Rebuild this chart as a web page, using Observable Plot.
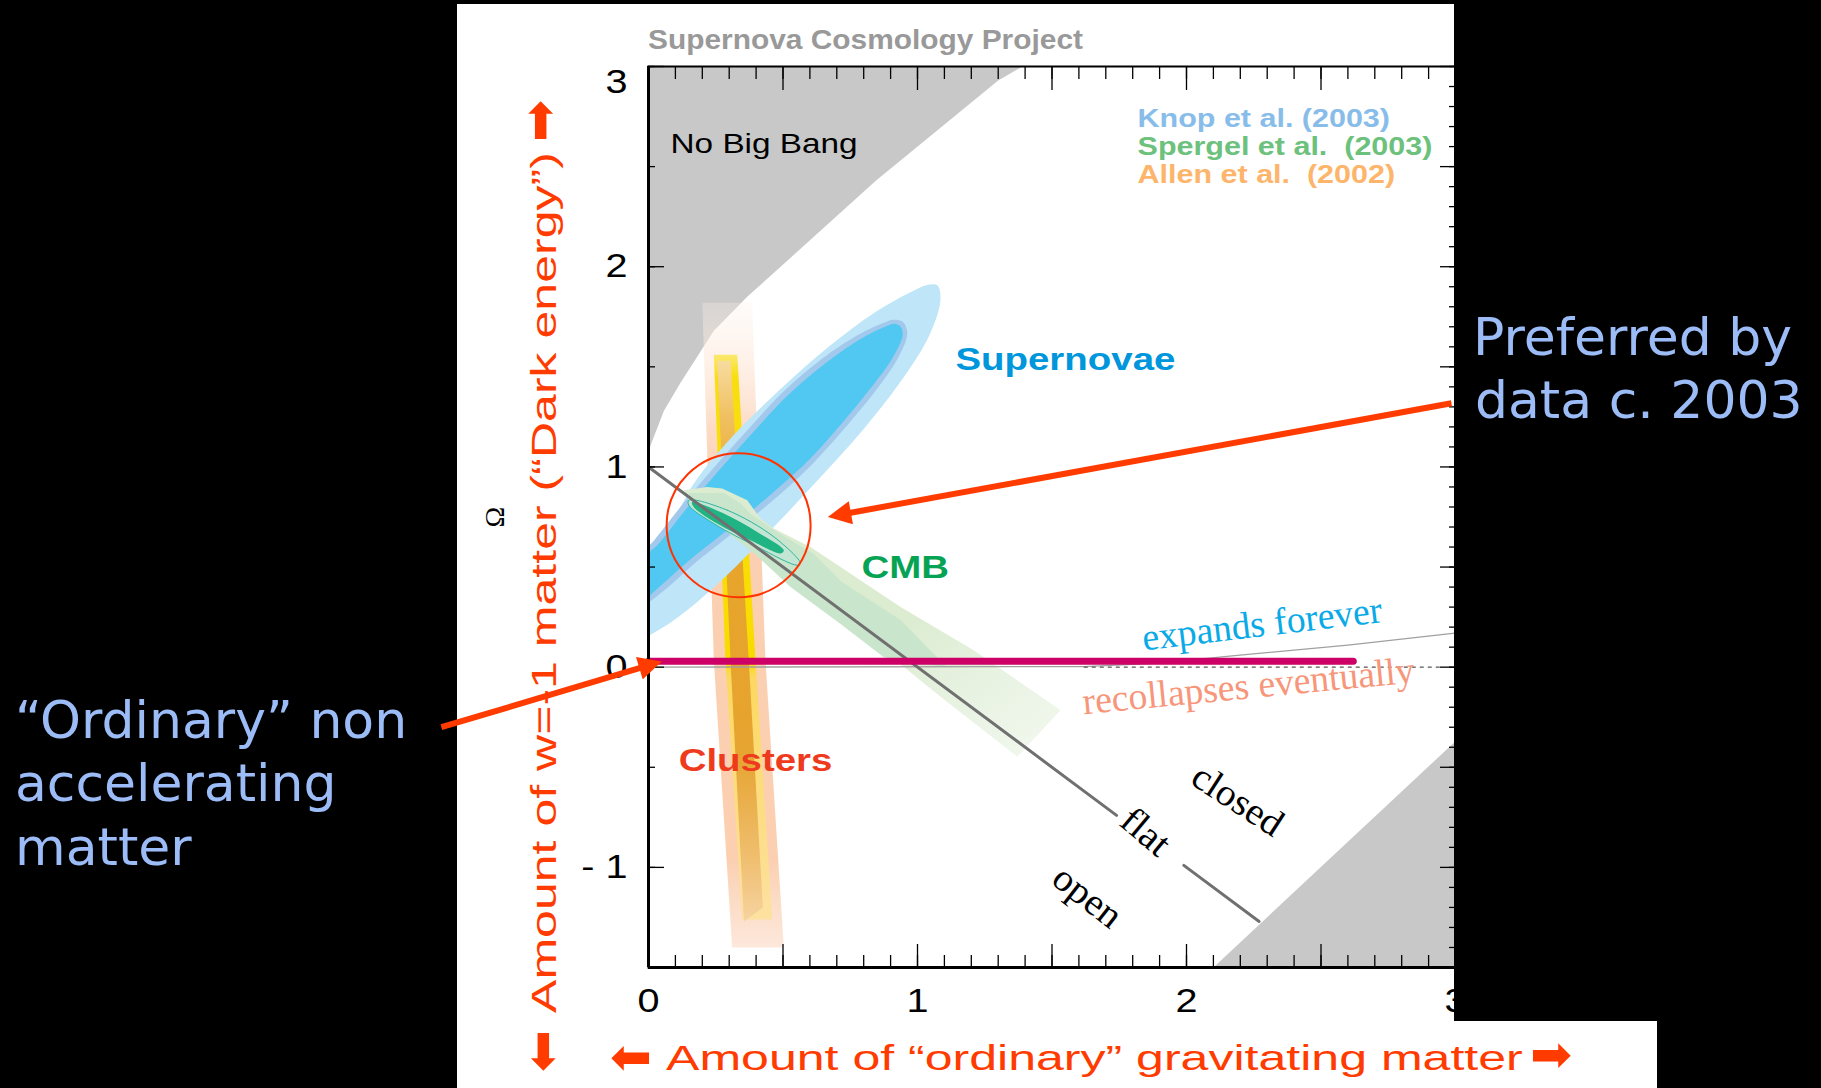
<!DOCTYPE html>
<html>
<head>
<meta charset="utf-8">
<script src="https://cdn.jsdelivr.net/npm/d3@7"></script>
<script src="https://cdn.jsdelivr.net/npm/@observablehq/plot@0.6"></script>
<style>
html,body{margin:0;padding:0;background:#000;}
body{width:1821px;height:1088px;position:relative;overflow:hidden;font-family:"Liberation Sans",Arial,Helvetica,sans-serif;}
.abs{position:absolute;white-space:pre;}
#panel{left:457px;top:4px;width:997px;height:1084px;background:#fff;}
#panel2{left:1454px;top:1021px;width:203px;height:67px;background:#fff;}
#chart{left:0;top:0;z-index:2;}
#chart text{white-space:pre;}
#coverR{left:1454px;top:0;width:367px;height:1021px;background:#000;z-index:3;}
#coverT{left:0;top:0;width:1821px;height:4px;background:#000;z-index:3;}
.blue{color:#9cbcf8;font-family:"DejaVu Sans",Verdana,sans-serif;font-size:52px;line-height:52px;z-index:4;}
.orange{color:#ff3b00;font-size:35px;line-height:35px;z-index:1;}
.arrow{font-family:"DejaVu Sans",sans-serif;font-size:50px;line-height:50px;color:#ff3b00;z-index:1;}
#title{left:648px;top:26px;font-size:28px;line-height:28px;font-weight:bold;color:#999;transform:scaleX(1.067);transform-origin:0 0;}
</style>
</head>
<body>
<div class="abs" id="panel"></div>
<div class="abs" id="panel2"></div>
<div class="abs" id="title">Supernova Cosmology Project</div>
<div class="abs orange" id="ylab" style="left:526px;top:1013px;transform-origin:0 0;transform:rotate(-90deg) scaleX(1.43);">Amount of w=-1 matter (“Dark energy”)</div>
<div class="abs arrow" style="left:542px;top:1051px;transform:translate(-50%,-50%) rotate(-90deg);">⬅</div>
<div class="abs arrow" style="left:542px;top:121px;transform:translate(-50%,-50%) rotate(90deg);">⬅</div>
<div class="abs orange" id="xlab" style="left:666px;top:1040px;transform-origin:0 0;transform:scaleX(1.43);">Amount of “ordinary” gravitating matter</div>
<div class="abs arrow" style="left:631px;top:1057px;transform:translate(-50%,-50%);">⬅</div>
<div class="abs arrow" style="left:1551px;top:1057px;transform:translate(-50%,-50%) rotate(180deg);">⬅</div>
<div class="abs" style="left:495px;top:517px;transform:translate(-50%,-50%) rotate(-90deg);font-family:'Liberation Serif',serif;font-size:28px;line-height:28px;color:#000;z-index:1;">Ω</div>
<div class="abs" id="chart"></div>
<div class="abs" id="coverR"></div>
<div class="abs" id="coverT"></div>
<div class="abs blue" style="left:1473px;top:311px;">Preferred by</div>
<div class="abs blue" style="left:1475px;top:374px;">data c. 2003</div>
<div class="abs blue" style="left:15px;top:694px;">“Ordinary” non</div>
<div class="abs blue" style="left:15px;top:757px;">accelerating</div>
<div class="abs blue" style="left:15px;top:821px;">matter</div>
<script>
// ---------------- data (x = Ωm, y = ΩΛ) ----------------
const xDomain = [0, 3];
const yDomain = [-1.5, 3];
const xTickValues = [0, 1, 2, 3];
const xTickLabels = ["0", "1", "2", "3"];
const yTickValues = [-1, 0, 1, 2];
const yTickLabels = ["- 1", "0", "1", "2"];
const yTopTickLabel = "3";

// "No Big Bang" region (top left)
const noBigBangX = [0, 0, 0.014, 0.057, 0.119, 0.243, 0.367, 0.516, 0.845, 1.30, 1.39];
const noBigBangY = [3, 1.08, 1.13, 1.28, 1.42, 1.68, 1.85, 2.03, 2.43, 2.93, 3.0];
// grey region bottom right
const cornerX = [2.10, 3.0, 3.0];
const cornerY = [-1.5, -0.37, -1.5];

// Supernovae (Knop et al. 2003) contours
const snOuterX = [1.075, 1.085, 1.045, 0.950, 0.800, 0.640, 0.480, 0.300, 0.140, 0.030, -0.03, -0.03, 0.030, 0.100, 0.180, 0.310, 0.500, 0.670, 0.840, 0.970, 1.040];
const snOuterY = [1.905, 1.830, 1.660, 1.450, 1.190, 0.950, 0.720, 0.470, 0.280, 0.180, 0.150, 0.520, 0.640, 0.760, 0.940, 1.150, 1.400, 1.600, 1.770, 1.870, 1.910];
const snMidX = [0.945, 0.962, 0.930, 0.850, 0.740, 0.620, 0.540, 0.420, 0.290, 0.160, 0.060, -0.03, -0.03, 0.025, 0.125, 0.245, 0.365, 0.505, 0.645, 0.780, 0.875, 0.910];
const snMidY = [1.725, 1.670, 1.550, 1.390, 1.210, 1.030, 0.925, 0.785, 0.645, 0.505, 0.385, 0.310, 0.545, 0.640, 0.810, 1.000, 1.180, 1.380, 1.540, 1.660, 1.720, 1.735];
const snInX = [0.937, 0.945, 0.910, 0.830, 0.720, 0.600, 0.520, 0.400, 0.270, 0.140, 0.040, -0.03, -0.03, 0.040, 0.140, 0.260, 0.380, 0.520, 0.660, 0.790, 0.880, 0.915];
const snInY = [1.700, 1.660, 1.550, 1.400, 1.220, 1.040, 0.940, 0.800, 0.660, 0.520, 0.400, 0.330, 0.520, 0.620, 0.790, 0.980, 1.160, 1.360, 1.520, 1.640, 1.700, 1.715];

// CMB (Spergel et al. 2003) contours
const cmbOuterX = [0.131, 0.218, 0.274, 0.367, 0.416, 0.466, 0.602, 0.714, 0.937, 1.209, 1.532, 1.371, 1.086, 0.900, 0.714, 0.600, 0.466, 0.342, 0.243, 0.156];
const cmbOuterY = [0.884, 0.900, 0.892, 0.834, 0.742, 0.692, 0.600, 0.500, 0.301, 0.085, -0.215, -0.448, -0.148, 0.055, 0.268, 0.400, 0.550, 0.659, 0.734, 0.817];
const cmbMidX = [0.150, 0.280, 0.345, 0.380, 0.490, 0.615, 0.714, 0.862, 0.937, 1.036, 1.110, 1.150, 0.875, 0.714, 0.528, 0.400, 0.250, 0.160];
const cmbMidY = [0.870, 0.870, 0.815, 0.765, 0.665, 0.565, 0.430, 0.300, 0.235, 0.100, 0.000, -0.010, 0.050, 0.215, 0.400, 0.560, 0.720, 0.810];
const cmbRimX = [0.150, 0.293, 0.466, 0.565, 0.553, 0.404, 0.243, 0.150];
const cmbRimY = [0.834, 0.784, 0.651, 0.518, 0.509, 0.601, 0.717, 0.809];
const cmbCoreX = [0.162, 0.280, 0.404, 0.503, 0.491, 0.379, 0.255, 0.168];
const cmbCoreY = [0.825, 0.767, 0.675, 0.584, 0.568, 0.634, 0.717, 0.800];

// Clusters (Allen et al. 2002) bands
const clOuterX = [0.200, 0.385, 0.435, 0.503, 0.311, 0.243];
const clOuterY = [1.82, 1.82, 0.03, -1.40, -1.40, 0.03];
const clMidX = [0.243, 0.330, 0.398, 0.460, 0.348, 0.286];
const clMidY = [1.56, 1.56, 0.03, -1.26, -1.26, 0.03];
const clCoreX = [0.255, 0.305, 0.373, 0.425, 0.355, 0.305];
const clCoreY = [1.53, 1.53, 0.03, -1.20, -1.27, 0.03];

// lines
const flatSeg = [1, 1, 2, 2];
const flatX = [0, 1.74, 1.99, 2.27];
const flatY = [1, -0.74, -0.99, -1.27];
const expandX = [0, 1.62, 1.90, 2.16, 2.60, 3.0];
const expandY = [0, 0.003, 0.02, 0.055, 0.11, 0.17];
const dottedX = [1.62, 2.95];
const dottedY = [0, 0];
const magentaX = [0, 2.62];
const magentaY = [0.03, 0.03];

// red circle and arrows
const circleX = [0.335], circleY = [0.709];
const arrowX1 = [2.985, -0.770], arrowY1 = [1.318, -0.300];
const arrowX2 = [0.701, 0.016], arrowY2 = [0.759, 0.015];

// text labels
const regionText = ["No Big Bang"];
const regionX = [0.082], regionY = [2.615];
const probeText = ["Supernovae", "CMB", "Clusters"];
const probeX = [1.141, 0.792, 0.112];
const probeY = [1.533, 0.494, -0.467];
const probeColor = ["#0096dc", "#07a355", "#ee3b1e"];
const legendText = ["Knop et al. (2003)", "Spergel et al.  (2003)", "Allen et al.  (2002)"];
const legendX = [1.818, 1.818, 1.818];
const legendY = [2.737, 2.596, 2.456];
const legendColor = ["#88bde9", "#6cc17c", "#fdb56b"];
const fateText = ["expands forever", "recollapses eventually"];
const fateX = [2.281, 2.230], fateY = [0.215, -0.095], fateRot = [-6.8, -5.5];
const fateColor = ["#0aaae6", "#f7967a"];
const geomText = ["closed", "flat", "open"];
const geomX = [2.190, 1.848, 1.632], geomY = [-0.664, -0.822, -1.146], geomRot = [33, 40, 38];

// ---------------- build ----------------
const pts = (xs, ys) => xs.map((x, i) => ({x, y: ys[i]}));
const poly = (xs, ys, fill, curve = "linear-closed", extra = {}) =>
  Plot.line(pts(xs, ys), {x: "x", y: "y", fill, stroke: "none", curve, clip: "frame", ...extra});

const xMinor = d3.range(0, 31).map(d => d / 10);
const xMajor = d3.range(0, 7).map(d => d / 2);
const yHalf = d3.range(-3, 7).map(d => d / 2);
const yInt = [-1, 0, 1, 2, 3];
const yTenth = d3.range(-15, 31).map(d => d / 10);
const noText = () => "";

const plot = Plot.plot({
  width: 1821, height: 1088,
  marginLeft: 648, marginRight: 366, marginTop: 66, marginBottom: 121,
  x: {domain: xDomain, label: null},
  y: {domain: yDomain, label: null},
  color: {type: "identity"},
  style: {background: "transparent", overflow: "visible", fontFamily: "Liberation Sans, Arial, Helvetica, sans-serif", color: "#000"},
  marks: [
    poly(noBigBangX, noBigBangY, "#c8c8c8", "linear-closed"),
    poly(cornerX, cornerY, "#c8c8c8", "linear-closed"),
    // clusters
    poly(clOuterX, clOuterY, "url(#gPeach)"),
    poly(clMidX, clMidY, "url(#gYellow)"),
    poly(clCoreX, clCoreY, "url(#gCore)"),
    // supernovae
    poly(snOuterX, snOuterY, "#bee5f8", "catmull-rom-closed"),
    poly(snMidX, snMidY, "#a2c9ec", "catmull-rom-closed"),
    poly(snInX, snInY, "#50c8f1", "catmull-rom-closed"),
    // CMB
    poly(cmbOuterX, cmbOuterY, "url(#gGreen)", "linear-closed"),
    poly(cmbMidX, cmbMidY, "#c9e5cb", "linear-closed"),
    poly(cmbRimX, cmbRimY, "#c3e6d4", "catmull-rom-closed", {stroke: "#2bb59f", strokeWidth: 1}),
    poly(cmbCoreX, cmbCoreY, "#20b383", "catmull-rom-closed"),
    // boundary lines
    Plot.line(pts(expandX, expandY), {x: "x", y: "y", stroke: "#a0a0a0", strokeWidth: 1.3, clip: "frame"}),
    Plot.line(pts(dottedX, dottedY), {x: "x", y: "y", stroke: "#555", strokeWidth: 1.2, strokeDasharray: "3,5", clip: "frame"}),
    Plot.line(flatX.map((x, i) => ({x, y: flatY[i], s: flatSeg[i]})), {x: "x", y: "y", z: "s", stroke: "#707070", strokeWidth: 3}),
    Plot.line(pts(magentaX, magentaY), {x: "x", y: "y", stroke: "#cc0066", strokeWidth: 7}),
    Plot.dot(pts(circleX, circleY), {x: "x", y: "y", r: 72, stroke: "#ff3300", strokeWidth: 2, fill: "none"}),
    // labels
    Plot.text(regionText, {x: (d, i) => regionX[i], y: (d, i) => regionY[i], text: d => d, textAnchor: "start", fontSize: 28, fill: "#000", ariaDescription: "stretch:1.19"}),
    Plot.text(probeText, {x: (d, i) => probeX[i], y: (d, i) => probeY[i], text: d => d, fill: (d, i) => probeColor[i], textAnchor: "start", fontSize: 31, fontWeight: "bold", ariaDescription: "stretch:1.24"}),
    Plot.text(legendText, {x: (d, i) => legendX[i], y: (d, i) => legendY[i], text: d => d, fill: (d, i) => legendColor[i], textAnchor: "start", fontSize: 25, fontWeight: "bold", ariaDescription: "stretch:1.22"}),
    Plot.text(fateText, {x: (d, i) => fateX[i], y: (d, i) => fateY[i], rotate: (d, i) => fateRot[i], text: d => d, fill: (d, i) => fateColor[i], fontSize: 38, fontFamily: "Liberation Serif, Times New Roman, serif", ariaDescription: "stretch:0.99"}),
    Plot.text(geomText, {x: (d, i) => geomX[i], y: (d, i) => geomY[i], rotate: (d, i) => geomRot[i], text: d => d, fill: "#000", fontSize: 38, fontFamily: "Liberation Serif, Times New Roman, serif", ariaDescription: "stretch:1.04"}),
    // frame and ticks
    Plot.frame({stroke: "#000", strokeWidth: 2}),
    Plot.ruleX([0], {stroke: "#000", strokeWidth: 3}),
    Plot.ruleY([-1.5], {stroke: "#000", strokeWidth: 3}),
    Plot.axisX(xMinor, {anchor: "bottom", tickSize: -12, tickFormat: noText, label: null, strokeWidth: 1.3}),
    Plot.axisX(xMajor, {anchor: "bottom", tickSize: -23, tickFormat: noText, label: null, strokeWidth: 1.3}),
    Plot.axisX(xMinor, {anchor: "top", tickSize: -12, tickFormat: noText, label: null, strokeWidth: 1.3}),
    Plot.axisX(xMajor, {anchor: "top", tickSize: -23, tickFormat: noText, label: null, strokeWidth: 1.3}),
    Plot.axisX(xTickValues, {anchor: "bottom", tickSize: 0, tickPadding: 21, tickFormat: d => xTickLabels[xTickValues.indexOf(d)], fontSize: 33, label: null}),
    Plot.axisY(yHalf, {anchor: "left", tickSize: -7, tickFormat: noText, label: null, strokeWidth: 1.3}),
    Plot.axisY(yInt, {anchor: "left", tickSize: -16, tickFormat: noText, label: null, strokeWidth: 1.3}),
    Plot.axisY(yTenth, {anchor: "right", tickSize: -7, tickFormat: noText, label: null, strokeWidth: 1.3}),
    Plot.axisY(yHalf, {anchor: "right", tickSize: -16, tickFormat: noText, label: null, strokeWidth: 1.3}),
    Plot.axisY(yTickValues, {anchor: "left", tickSize: 0, tickPadding: 21, tickFormat: d => yTickLabels[yTickValues.indexOf(d)], fontSize: 33, label: null}),
    Plot.axisY([3], {anchor: "left", tickSize: 0, tickPadding: 21, tickFormat: () => yTopTickLabel, fontSize: 33, dy: 16, label: null}),
    // arrows
    Plot.link(arrowX1.map((x, i) => ({x1: x, y1: arrowY1[i], x2: arrowX2[i], y2: arrowY2[i]})), {x1: "x1", y1: "y1", x2: "x2", y2: "y2", stroke: "#ff3b00", strokeWidth: 6, ariaDescription: "redarrow"})
  ]
});

// gradients & arrowheads (styling)
const svgSel = d3.select(plot);
const defs = svgSel.insert("defs", ":first-child");
function grad(id, x2, y2, stops) {
  const g = defs.append("linearGradient").attr("id", id).attr("x1", 0).attr("y1", 0).attr("x2", x2).attr("y2", y2);
  stops.forEach(([o, c, a]) => g.append("stop").attr("offset", o).attr("stop-color", c).attr("stop-opacity", a));
}
grad("gPeach", 0, 1, [[0, "#fdf2ea", 0.3], [0.1, "#fde6d6", 0.6], [0.2, "#fcd8c0", 0.95], [0.3, "#fbd0b2", 1], [0.86, "#fbcfb0", 1], [0.93, "#fcdcc6", 1], [1, "#fde8dc", 1]]);
grad("gYellow", 0, 1, [[0, "#fbe870", 1], [0.04, "#f9de10", 1], [0.54, "#f8dc00", 1], [0.57, "#fcd860", 1], [1, "#fde1a0", 1]]);
grad("gCore", 0, 1, [[0, "#f7dca0", 1], [0.1, "#f0c060", 1], [0.25, "#e7a52a", 1], [0.7, "#e6a430", 1], [0.88, "#efbd6c", 1], [1, "#f6d3a0", 1]]);
grad("gGreen", 1, 1, [[0, "#dcecd1", 1], [0.55, "#dcecd1", 1], [0.75, "#e7f2e1", 1], [1, "#f3f8ef", 1]]);
defs.append("marker").attr("id", "ah").attr("viewBox", "0 0 10 10").attr("refX", 6).attr("refY", 5)
  .attr("markerWidth", 4.2).attr("markerHeight", 3.9).attr("orient", "auto").attr("markerUnits", "strokeWidth")
  .append("path").attr("d", "M0,0L10,5L0,10Z").attr("fill", "#ff3b00");
svgSel.selectAll('g[aria-description="redarrow"] path').attr("marker-end", "url(#ah)");

// horizontal stretch of the original lettering
function stretch(t, s) {
  const tr = t.getAttribute("transform");
  if (tr) t.setAttribute("transform", tr + ` scale(${s},1)`);
  else {
    const x = +t.getAttribute("x") || 0, y = +t.getAttribute("y") || 0;
    t.removeAttribute("x"); t.removeAttribute("y");
    t.setAttribute("transform", `translate(${x},${y}) scale(${s},1)`);
  }
}
plot.querySelectorAll("g[aria-description]").forEach(g => {
  const m = /stretch:([\d.]+)/.exec(g.getAttribute("aria-description") || "");
  if (m) g.querySelectorAll("text").forEach(t => stretch(t, +m[1]));
});
plot.querySelectorAll('g[aria-label="x-axis tick label"] text, g[aria-label="y-axis tick label"] text').forEach(t => stretch(t, 1.2));

document.getElementById("chart").appendChild(plot);
</script>
</body>
</html>
